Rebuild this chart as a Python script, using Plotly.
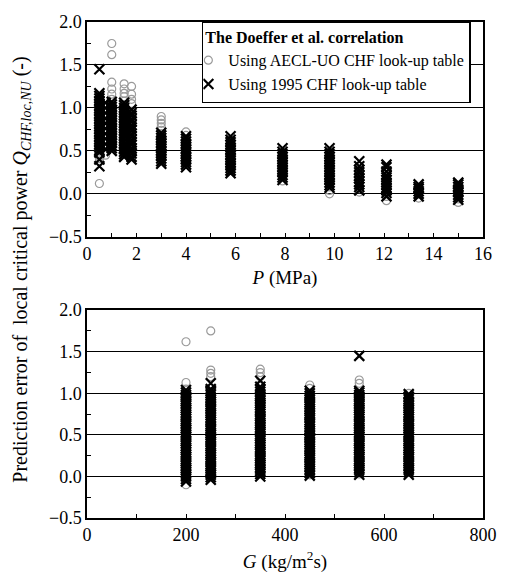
import plotly.graph_objects as go
from plotly.subplots import make_subplots

# ---------------- data ----------------
top_P = [0.5, 0.75, 1.0, 1.5, 1.8, 3.0, 4.0, 5.8, 7.9, 9.8, 11.0, 12.1, 13.4, 15.0]

top_aecl = [
    [0.12, 0.38, 0.41, 0.44, 0.47, 0.50, 0.62, 0.75, 0.88, 0.97, 1.05, 1.12],
    [0.45, 0.90],
    [1.75, 1.62, 1.30, 1.22, 1.16, 1.10, 0.78, 0.70, 0.58, 0.66, 0.85, 0.95, 1.02],
    [1.28, 1.22, 1.17, 1.13, 1.08, 1.03, 0.98, 0.72, 0.62, 0.55],
    [1.25, 1.16, 1.10, 1.05, 0.96, 0.85, 0.70],
    [0.90, 0.86, 0.82, 0.78, 0.74, 0.70, 0.60, 0.50],
    [0.72, 0.68, 0.64, 0.58, 0.50, 0.42],
    [0.30, 0.36, 0.45, 0.55, 0.62],
    [0.15, 0.20, 0.25, 0.32, 0.40],
    [0.00, 0.04, 0.08, 0.12, 0.20, 0.30],
    [0.02, 0.06, 0.12, 0.20],
    [-0.08, -0.03, 0.02, 0.10],
    [-0.05, 0.00, 0.04],
    [-0.10, -0.06, -0.02, 0.03],
]

top_1995 = [
    [0.32, 0.40, 0.48, 0.51, 0.54, 0.57, 0.60, 0.63, 0.66, 0.69, 0.72, 0.75, 0.78, 0.81, 0.84,
     0.87, 0.90, 0.93, 0.96, 0.99, 1.02, 1.05, 1.08, 1.11, 1.14, 1.17, 1.45],
    [0.52, 0.58, 0.64, 0.70, 0.76, 0.82, 0.88, 0.94, 1.00, 1.06],
    [0.50, 0.53, 0.56, 0.59, 0.62, 0.65, 0.68, 0.71, 0.74, 0.77, 0.80, 0.83, 0.86, 0.89, 0.92,
     0.95, 0.98, 1.01, 1.04, 1.07],
    [0.43, 0.46, 0.49, 0.52, 0.55, 0.58, 0.61, 0.64, 0.67, 0.70, 0.73, 0.76, 0.79, 0.82, 0.85,
     0.88, 0.91, 0.94, 0.97, 1.00, 1.03, 1.06],
    [0.40, 0.43, 0.47, 0.50, 0.53, 0.57, 0.60, 0.63, 0.67, 0.70, 0.74, 0.77, 0.80, 0.84, 0.87,
     0.91, 0.94, 0.98],
    [0.35, 0.38, 0.41, 0.44, 0.47, 0.50, 0.53, 0.56, 0.59, 0.62, 0.65, 0.68, 0.71],
    [0.31, 0.34, 0.37, 0.40, 0.43, 0.46, 0.49, 0.52, 0.55, 0.58, 0.61, 0.64, 0.67],
    [0.24, 0.27, 0.30, 0.33, 0.36, 0.39, 0.42, 0.45, 0.48, 0.51, 0.54, 0.57, 0.60, 0.63, 0.67],
    [0.16, 0.19, 0.22, 0.25, 0.28, 0.31, 0.34, 0.37, 0.40, 0.43, 0.46, 0.49, 0.53],
    [0.07, 0.10, 0.13, 0.16, 0.19, 0.22, 0.25, 0.28, 0.31, 0.34, 0.37, 0.40, 0.43, 0.46, 0.49, 0.53],
    [0.04, 0.08, 0.11, 0.14, 0.18, 0.21, 0.25, 0.28, 0.32, 0.38],
    [-0.03, 0.01, 0.04, 0.07, 0.10, 0.13, 0.16, 0.19, 0.22, 0.26, 0.31, 0.34],
    [-0.03, 0.00, 0.03, 0.06, 0.08, 0.11],
    [-0.07, -0.04, -0.01, 0.02, 0.05, 0.08, 0.11, 0.13],
]

bot_G = [200, 250, 350, 450, 550, 650]

bot_aecl = [
    [1.62, 1.13, 1.05, 0.98, 0.78, -0.10, 0.30, 0.50],
    [1.75, 1.28, 1.24, 1.20, 0.78, 0.65, 0.05, 0.95],
    [1.29, 1.25, 1.20, 0.75, 0.20, 1.10],
    [1.10, 1.06, 0.80, 0.25, 0.02, 0.95],
    [1.16, 1.12, 0.82, 0.70, 0.30, 0.03],
    [1.00, 0.75, 0.20, 0.05],
]

bot_1995 = [
    [-0.06, -0.03, 0.00, 0.02, 0.05, 0.08, 0.10, 0.13, 0.16, 0.18, 0.21, 0.24, 0.26, 0.29, 0.32,
     0.34, 0.37, 0.40, 0.42, 0.45, 0.48, 0.50, 0.53, 0.56, 0.58, 0.61, 0.64, 0.66, 0.69, 0.72,
     0.74, 0.77, 0.80, 0.82, 0.85, 0.88, 0.90, 0.93, 0.96, 0.98, 1.01, 1.04],
    [-0.04, -0.01, 0.02, 0.04, 0.07, 0.10, 0.12, 0.15, 0.18, 0.20, 0.23, 0.26, 0.28, 0.31, 0.34,
     0.36, 0.39, 0.42, 0.44, 0.47, 0.50, 0.52, 0.55, 0.58, 0.60, 0.63, 0.66, 0.68, 0.71, 0.74,
     0.76, 0.79, 0.82, 0.84, 0.87, 0.90, 0.92, 0.95, 0.98, 1.00, 1.03, 1.05, 1.12],
    [0.00, 0.03, 0.06, 0.08, 0.11, 0.14, 0.16, 0.19, 0.22, 0.24, 0.27, 0.30, 0.32, 0.35, 0.38,
     0.40, 0.43, 0.46, 0.48, 0.51, 0.54, 0.56, 0.59, 0.62, 0.64, 0.67, 0.70, 0.72, 0.75, 0.78,
     0.80, 0.83, 0.86, 0.88, 0.91, 0.94, 0.96, 0.99, 1.02, 1.05, 1.08, 1.15],
    [0.01, 0.04, 0.07, 0.09, 0.12, 0.15, 0.17, 0.20, 0.23, 0.25, 0.28, 0.31, 0.33, 0.36, 0.39,
     0.41, 0.44, 0.47, 0.49, 0.52, 0.55, 0.57, 0.60, 0.63, 0.65, 0.68, 0.71, 0.73, 0.76, 0.79,
     0.81, 0.84, 0.87, 0.89, 0.92, 0.95, 0.97, 1.00, 1.03],
    [0.02, 0.05, 0.08, 0.10, 0.13, 0.16, 0.18, 0.21, 0.24, 0.26, 0.29, 0.32, 0.34, 0.37, 0.40,
     0.42, 0.45, 0.48, 0.50, 0.53, 0.56, 0.58, 0.61, 0.64, 0.66, 0.69, 0.72, 0.74, 0.77, 0.80,
     0.82, 0.85, 0.88, 0.90, 0.93, 0.96, 0.98, 1.01, 1.03, 1.45],
    [0.02, 0.05, 0.08, 0.10, 0.13, 0.16, 0.18, 0.21, 0.24, 0.26, 0.29, 0.32, 0.34, 0.37, 0.40,
     0.42, 0.45, 0.48, 0.50, 0.53, 0.56, 0.58, 0.61, 0.64, 0.66, 0.69, 0.72, 0.74, 0.77, 0.80,
     0.82, 0.85, 0.88, 0.90, 0.93, 0.96, 0.99],
]

LEG_TITLE = "<b>The Doeffer et al. correlation</b>"
NAME_AECL = "Using AECL-UO CHF look-up table"
NAME_1995 = "Using 1995 CHF look-up table"
Y_TITLE = "Prediction error of  local critical power <i>Q</i><sub><i>CHF,loc,NU</i></sub> (-)"
X1_TITLE = "<i>P</i> (MPa)"
X2_TITLE = "<i>G</i> (kg/m<sup>2</sup>s)"


def flatten(xs, groups):
    xx, yy = [], []
    for x, g in zip(xs, groups):
        for v in g:
            xx.append(x)
            yy.append(v)
    return xx, yy


FONT = "Liberation Serif"
circ = dict(symbol="circle-open", size=8, color="#9a9a9a", line=dict(width=1.2, color="#9a9a9a"))
cross = dict(symbol="x-thin", size=10, color="black", line=dict(width=2.2, color="black"))

fig = make_subplots(rows=2, cols=1, vertical_spacing=0.15)

x, y = flatten(top_P, top_aecl)
fig.add_trace(go.Scatter(x=x, y=y, mode="markers", marker=circ, name=NAME_AECL), row=1, col=1)
x, y = flatten(top_P, top_1995)
fig.add_trace(go.Scatter(x=x, y=y, mode="markers", marker=cross, name=NAME_1995), row=1, col=1)
x, y = flatten(bot_G, bot_aecl)
fig.add_trace(go.Scatter(x=x, y=y, mode="markers", marker=circ, showlegend=False), row=2, col=1)
x, y = flatten(bot_G, bot_1995)
fig.add_trace(go.Scatter(x=x, y=y, mode="markers", marker=cross, showlegend=False), row=2, col=1)

tfont = dict(family=FONT, size=18, color="black")
yax = dict(range=[-0.5, 2.0], dtick=0.5, tick0=0, tickformat=".1f",
           showgrid=True, gridcolor="black", gridwidth=1, zeroline=False,
           showline=True, linecolor="black", linewidth=1.5, mirror=True,
           ticks="inside", ticklen=4, tickcolor="black",
           minor=dict(dtick=0.25, ticks="inside", ticklen=4, tickcolor="black", showgrid=False),
           tickfont=tfont)
xbase = dict(showgrid=False, zeroline=False, showline=True, linecolor="black", linewidth=1.5,
             mirror=True, ticks="inside", ticklen=4, tickcolor="black", tickfont=tfont)

fig.update_yaxes(**yax, domain=[0.567, 1.0], row=1, col=1)
fig.update_yaxes(**yax, domain=[0.0, 0.419], row=2, col=1)
fig.update_xaxes(**xbase, range=[0, 16], dtick=2, minor=dict(dtick=1, ticks="inside", ticklen=4, tickcolor="black"),
                 title=dict(text=X1_TITLE, font=dict(family=FONT, size=19, color="black"), standoff=8),
                 row=1, col=1)
fig.update_xaxes(**xbase, range=[0, 800], dtick=200, minor=dict(dtick=100, ticks="inside", ticklen=4, tickcolor="black"),
                 title=dict(text=X2_TITLE, font=dict(family=FONT, size=19, color="black"), standoff=10),
                 row=2, col=1)

fig.add_annotation(text=Y_TITLE, xref="paper", yref="paper", x=-0.1675, y=0.5,
                   textangle=-90, showarrow=False, font=dict(family=FONT, size=20, color="black"),
                   xanchor="center", yanchor="middle")

fig.update_layout(
    width=509, height=581,
    margin=dict(l=87, r=22, t=12, b=61),
    paper_bgcolor="white", plot_bgcolor="white",
    font=dict(family=FONT, color="black"),
    showlegend=True,
    legend=dict(x=0.29, y=1.002, xanchor="left", yanchor="top",
                bgcolor="white", bordercolor="black", borderwidth=1.5,
                title=dict(text=LEG_TITLE, font=dict(family=FONT, size=16, color="black")),
                font=dict(family=FONT, size=16, color="black"),
                itemwidth=30, indentation=-15, tracegroupgap=0),
)

fig.write_html("out.html", config={"displayModeBar": False},
               post_script="document.body.style.margin='0';document.body.style.overflow='hidden';")
